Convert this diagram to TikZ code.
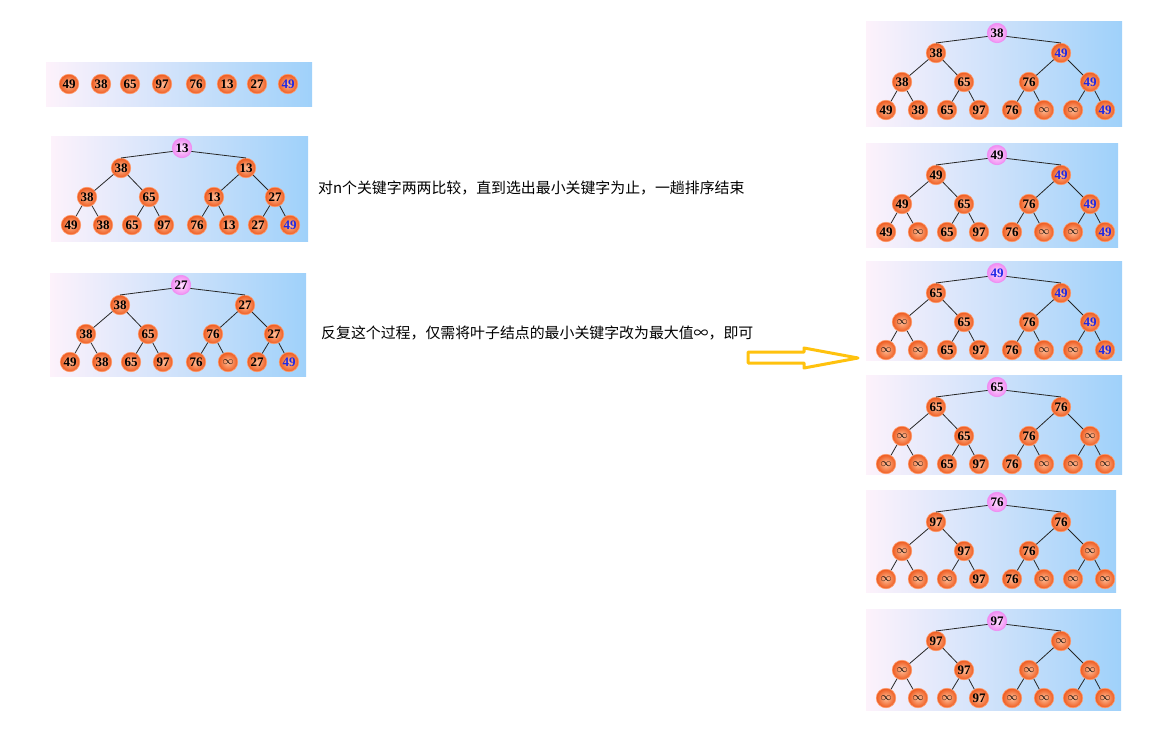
\documentclass[tikz,border=0pt]{standalone}
\usepackage{fontspec}
\setmainfont{Liberation Serif}
\newfontfamily\cjk{Noto Sans CJK SC}
\definecolor{panelL}{HTML}{FDF2FB}
\definecolor{panelR}{HTML}{9FD1FA}
\definecolor{ballin}{HTML}{FFBE98}
\definecolor{ballout}{HTML}{EE5A1E}
\definecolor{ballrim}{HTML}{FF9A6A}
\definecolor{rootin}{HTML}{FFE0FF}
\definecolor{rootout}{HTML}{F08CF2}
\definecolor{keyblue}{HTML}{1E28E6}
\definecolor{arrowgold}{HTML}{FFC20E}
\newcommand{\blu}[1]{\textcolor{keyblue}{#1}}
\newcommand{\infy}{{\mdseries\fontsize{11}{11}\selectfont$\infty$}}
% offsets of heap positions 2..15 inside a panel
\def\offx{{131,70,195,36,98,163,224,20,52,81,113,146,178,207,239}}
\def\offy{{12,32,32,61,61,61,61,89,89,89,89,89,89,89,89}}
% #1 name, #2 x, #3 y, #4 width, #5 height, #6 root, #7 other keys
\newcommand{\heaptree}[7]{%
  \shade[panel] (#2,#3) rectangle ++(#4,#5);
  \node[rootkey] (#1-1) at (#2+131,#3+12) {#6};
  \foreach \v [count=\k from 2] in {#7} {
    \pgfmathsetmacro{\dx}{\offx[\k-1]}
    \pgfmathsetmacro{\dy}{\offy[\k-1]}
    \node[key] (#1-\k) at (#2+\dx,#3+\dy) {\v};
  }
  \draw[edge] (#1-1.200) -- (#1-2.north);
  \draw[edge] (#1-1.-20) -- (#1-3.north);
  \foreach \k in {4,...,15} {
    \pgfmathtruncatemacro{\p}{\k/2}
    \draw[edge] (#1-\p) -- (#1-\k);
  }
}
\begin{document}
\begin{tikzpicture}[
    x=1pt, y=-1pt,
    panel/.style={left color=panelL, right color=panelR},
    key/.style={circle, minimum size=19.5pt, inner sep=0pt, shading=radial, inner color=ballin, outer color=ballout, draw=ballrim, line width=0.6pt, font=\bfseries\fontsize{13}{13}\selectfont},
    rootkey/.style={key, inner color=rootin, outer color=rootout, draw=rootout},
    edge/.style={draw=black!85, line width=0.8pt},
    note/.style={anchor=west, inner sep=0pt, font=\cjk\fontsize{14.9}{17}\selectfont},
    bigarrow/.style={draw=arrowgold, line width=3pt, line join=round},
]
\useasboundingbox (0,0) rectangle (1149,744);

% the keys before sorting
\shade[panel] (46,62) rectangle (312,106);
\foreach \v/\x [count=\i] in {49/69, 38/101, 65/130, 97/162, 76/196, 13/227, 27/257, {\blu{49}}/288}
  \node[key] (k\i) at (\x,84) {\v};

% left column
\heaptree{a}{51}{136}{257}{105}{13}{38,13,38,65,13,27,49,38,65,97,76,13,27,{\blu{49}}}
\heaptree{b}{50}{273}{256}{103}{27}{38,27,38,65,76,27,49,38,65,97,76,\infy,27,{\blu{49}}}

\node[note] (t1) at (318,188) {对n个关键字两两比较，直到选出最小关键字为止，一趟排序结束};
\node[note] (t2) at (321,333) {反复这个过程，仅需将叶子结点的最小关键字改为最大值∞，即可};

\draw[bigarrow] (748,352) -- (804,352) -- (804,348) -- (858,358) -- (804,368) -- (804,363) -- (748,363) -- cycle;

% right column
\heaptree{c}{866}{21}{256}{105}{38}{38,{\blu{49}},38,65,76,{\blu{49}},49,38,65,97,76,\infy,\infy,{\blu{49}}}
\heaptree{d}{866}{143}{252}{104}{49}{49,{\blu{49}},49,65,76,{\blu{49}},49,\infy,65,97,76,\infy,\infy,{\blu{49}}}
\heaptree{e}{866}{261}{256}{99}{\blu{49}}{65,{\blu{49}},\infy,65,76,{\blu{49}},\infy,\infy,65,97,76,\infy,\infy,{\blu{49}}}
\heaptree{f}{866}{375}{256}{99}{65}{65,76,\infy,65,76,\infy,\infy,\infy,65,97,76,\infy,\infy,\infy}
\heaptree{g}{866}{490}{250}{102}{76}{97,76,\infy,97,76,\infy,\infy,\infy,\infy,97,76,\infy,\infy,\infy}
\heaptree{h}{866}{609}{255}{101}{97}{97,\infy,\infy,97,\infy,\infy,\infy,\infy,\infy,97,\infy,\infy,\infy,\infy}
\end{tikzpicture}
\end{document}
